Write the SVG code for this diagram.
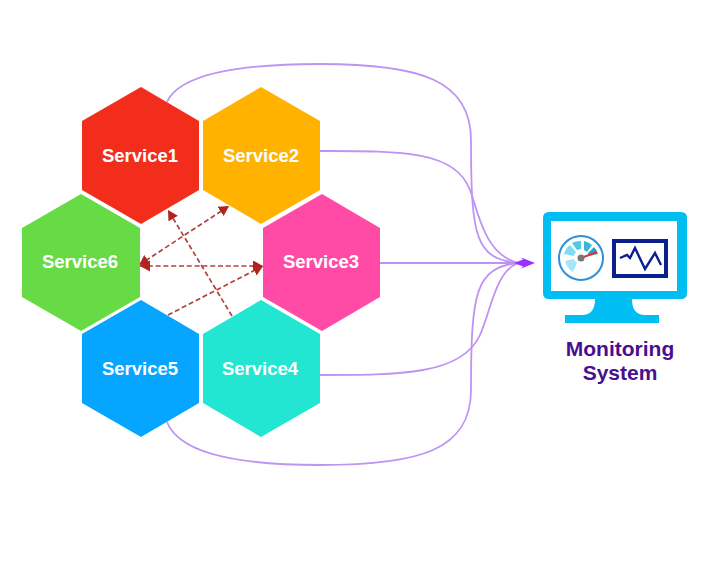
<svg xmlns="http://www.w3.org/2000/svg" width="720" height="567" viewBox="0 0 720 567">
<defs>
<marker id="rh" markerUnits="userSpaceOnUse" markerWidth="12" markerHeight="12" refX="10" refY="5.5" orient="auto-start-reverse"><path d="M0 0 L10 5.5 L0 11 Z" fill="#B2221E"/></marker>
<style>
.hex{stroke:none}
.lbl{font-family:"Liberation Sans",Arial,sans-serif;font-weight:700;font-size:18.5px;fill:#fff;text-anchor:middle}
.p{fill:none;stroke:#BE94F3;stroke-width:1.8}
.d{fill:none;stroke:#B2423E;stroke-width:1.7;stroke-dasharray:5 2.8}
.mon{font-family:"Liberation Sans",Arial,sans-serif;font-weight:700;font-size:21px;fill:#47108F;text-anchor:middle}
</style>
</defs>
<rect width="720" height="567" fill="#fff"/>
<g id="connectors">
<path class="p" d="M167 102 C178 78 225 64 320 64 C420 64 471 80 471 140 C471 240 476 258 518 263"/>
<path class="p" d="M319 151 C400 151 455 150 470 190 C478 211 484 254 518 263"/>
<path class="p" d="M380 263 L518 263"/>
<path class="p" d="M319 375 C400 375 462 375 480 335 C491 311 495 272 518 263"/>
<path class="p" d="M167 422 C178 450 225 465 320 465 C420 465 471 450 471 390 C471 290 476 268 518 263"/>
<path d="M514 263 L523 259.5 L521 257.5 L535 263 L521 268.5 L523 266.5 Z" fill="#9B30FF"/>
<path class="d" d="M232 316 L168 210" marker-end="url(#rh)"/>
<path class="d" d="M139 265 L229 206" marker-start="url(#rh)" marker-end="url(#rh)"/>
<path class="d" d="M140 266 L263 266" marker-start="url(#rh)" marker-end="url(#rh)"/>
<path class="d" d="M168 315 L263 266" marker-end="url(#rh)"/>
</g>
<g id="service1"><polygon class="hex" fill="#F22D1B" points="141,87 199,121 199,190 141,224 82,190 82,121"/><text class="lbl" x="140" y="162">Service1</text></g>
<g id="service2"><polygon class="hex" fill="#FFB300" points="261,87 320,121 320,190 261,224 203,190 203,121"/><text class="lbl" x="261" y="162">Service2</text></g>
<g id="service3"><polygon class="hex" fill="#FF4BA6" points="322,194 380,228 380,297 322,331 263,297 263,228"/><text class="lbl" x="321" y="268">Service3</text></g>
<g id="service4"><polygon class="hex" fill="#22E6D2" points="261,300 320,334 320,403 261,437 203,403 203,334"/><text class="lbl" x="260" y="375">Service4</text></g>
<g id="service5"><polygon class="hex" fill="#06A5FF" points="141,300 199,334 199,403 141,437 82,403 82,334"/><text class="lbl" x="140" y="375">Service5</text></g>
<g id="service6"><polygon class="hex" fill="#67DB45" points="81,194 140,228 140,297 81,331 22,297 22,228"/><text class="lbl" x="80" y="268">Service6</text></g>
<g id="monitoring">
<path fill="#00BDF2" d="M549 212 H681 Q687 212 687 218 V293 Q687 299 681 299 H632 Q632 315 645 315 H659 V323 H565 V315 H582 Q595 315 595 299 H549 Q543 299 543 293 V218 Q543 212 549 212 Z"/>
<rect x="551" y="221" width="126" height="70" fill="#fff"/>
<circle cx="581" cy="258" r="22" fill="#fff" stroke="#2F8FD8" stroke-width="2"/>
<path d="M565 261 A17 17 0 0 0 573 272 L577 263 A7 7 0 0 1 574 259 Z" fill="#A6E6F8"/>
<path d="M564 254 A17 17 0 0 1 570 245 L576 252 A8 8 0 0 0 574 256 Z" fill="#7EDCF5"/>
<path d="M572 243 A17 17 0 0 1 581 241 L581 249 L577 250 Z" fill="#4FC8EA"/>
<path d="M584 241 A17 17 0 0 1 592 245 L587 252 L584 250 Z" fill="#3DB5DE"/>
<path d="M594 247 A17 17 0 0 1 598 254 L589 256 L588 253 Z" fill="#2A9FCC"/>
<path d="M581 258 L597 252" stroke="#D9352B" stroke-width="2"/>
<circle cx="581" cy="258" r="3.5" fill="#777"/>
<rect x="614" y="241" width="52" height="35" fill="#fff" stroke="#0B1F8F" stroke-width="4"/>
<path d="M620 258 L627 255 L630 258 L635 248 L645 269 L655 253 L661 265" fill="none" stroke="#0B1F8F" stroke-width="2.4"/>
<text class="mon" x="620" y="356">Monitoring</text>
<text class="mon" x="620" y="380">System</text>
</g>
</svg>
